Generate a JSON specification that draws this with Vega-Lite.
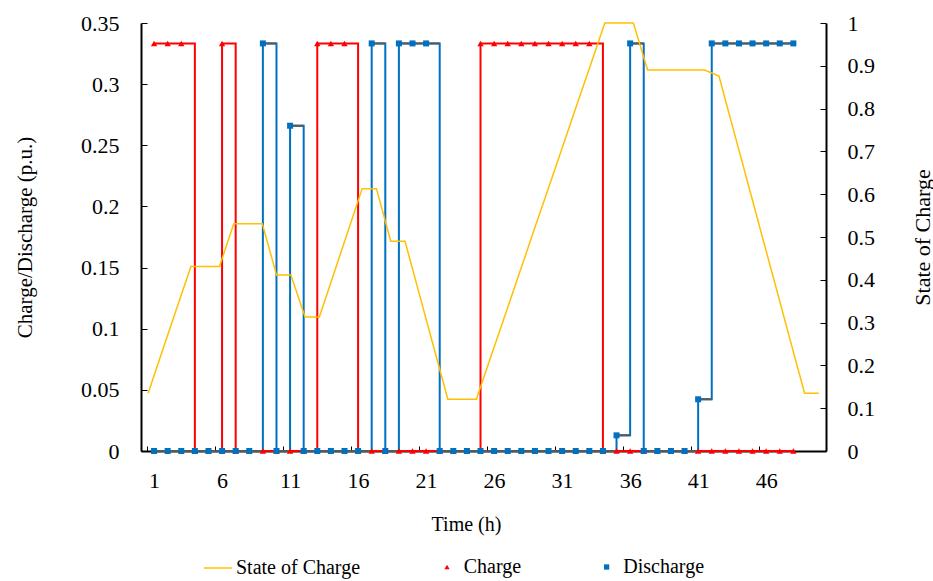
{
  "$schema": "https://vega.github.io/schema/vega-lite/v6.json",
  "width": 685,
  "height": 428,
  "autosize": "none",
  "padding": {"left": 141, "top": 23, "right": 107, "bottom": 130},
  "background": "white",
  "config": {
    "view": {"stroke": null},
    "font": "Liberation Serif",
    "axis": {
      "labelFont": "Liberation Serif", "titleFont": "Liberation Serif",
      "labelFontSize": 22, "titleFontSize": 20, "titleFontWeight": "normal",
      "labelColor": "#000", "titleColor": "#000",
      "domainColor": "#000", "domainWidth": 2,
      "tickColor": "#000", "tickWidth": 1, "grid": false
    },
    "legend": {"labelFont": "Liberation Serif", "labelFontSize": 20, "labelColor": "#000"}
  },
  "datasets": {
    "pwr": [
      {"hour": 1, "charge": 0.3333, "discharge": 0},
      {"hour": 2, "charge": 0.3333, "discharge": 0},
      {"hour": 3, "charge": 0.3333, "discharge": 0},
      {"hour": 4, "charge": 0, "discharge": 0},
      {"hour": 5, "charge": 0, "discharge": 0},
      {"hour": 6, "charge": 0.3333, "discharge": 0},
      {"hour": 7, "charge": 0, "discharge": 0},
      {"hour": 8, "charge": 0, "discharge": 0},
      {"hour": 9, "charge": 0, "discharge": 0.3333},
      {"hour": 10, "charge": 0, "discharge": 0},
      {"hour": 11, "charge": 0, "discharge": 0.266},
      {"hour": 12, "charge": 0, "discharge": 0},
      {"hour": 13, "charge": 0.3333, "discharge": 0},
      {"hour": 14, "charge": 0.3333, "discharge": 0},
      {"hour": 15, "charge": 0.3333, "discharge": 0},
      {"hour": 16, "charge": 0, "discharge": 0},
      {"hour": 17, "charge": 0, "discharge": 0.3333},
      {"hour": 18, "charge": 0, "discharge": 0},
      {"hour": 19, "charge": 0, "discharge": 0.3333},
      {"hour": 20, "charge": 0, "discharge": 0.3333},
      {"hour": 21, "charge": 0, "discharge": 0.3333},
      {"hour": 22, "charge": 0, "discharge": 0},
      {"hour": 23, "charge": 0, "discharge": 0},
      {"hour": 24, "charge": 0, "discharge": 0},
      {"hour": 25, "charge": 0.3333, "discharge": 0},
      {"hour": 26, "charge": 0.3333, "discharge": 0},
      {"hour": 27, "charge": 0.3333, "discharge": 0},
      {"hour": 28, "charge": 0.3333, "discharge": 0},
      {"hour": 29, "charge": 0.3333, "discharge": 0},
      {"hour": 30, "charge": 0.3333, "discharge": 0},
      {"hour": 31, "charge": 0.3333, "discharge": 0},
      {"hour": 32, "charge": 0.3333, "discharge": 0},
      {"hour": 33, "charge": 0.3333, "discharge": 0},
      {"hour": 34, "charge": 0, "discharge": 0},
      {"hour": 35, "charge": 0, "discharge": 0.0128},
      {"hour": 36, "charge": 0, "discharge": 0.3333},
      {"hour": 37, "charge": 0, "discharge": 0},
      {"hour": 38, "charge": 0, "discharge": 0},
      {"hour": 39, "charge": 0, "discharge": 0},
      {"hour": 40, "charge": 0, "discharge": 0},
      {"hour": 41, "charge": 0, "discharge": 0.0423},
      {"hour": 42, "charge": 0, "discharge": 0.3333},
      {"hour": 43, "charge": 0, "discharge": 0.3333},
      {"hour": 44, "charge": 0, "discharge": 0.3333},
      {"hour": 45, "charge": 0, "discharge": 0.3333},
      {"hour": 46, "charge": 0, "discharge": 0.3333},
      {"hour": 47, "charge": 0, "discharge": 0.3333},
      {"hour": 48, "charge": 0, "discharge": 0.3333}
    ],
    "soc": [
      {"k": 1, "soc": 0.135}, {"k": 2, "soc": 0.234}, {"k": 3, "soc": 0.333}, {"k": 4, "soc": 0.431},
      {"k": 5, "soc": 0.431}, {"k": 6, "soc": 0.431}, {"k": 7, "soc": 0.531}, {"k": 8, "soc": 0.531},
      {"k": 9, "soc": 0.531}, {"k": 10, "soc": 0.411}, {"k": 11, "soc": 0.411}, {"k": 12, "soc": 0.313},
      {"k": 13, "soc": 0.313}, {"k": 14, "soc": 0.413}, {"k": 15, "soc": 0.513}, {"k": 16, "soc": 0.613},
      {"k": 17, "soc": 0.613}, {"k": 18, "soc": 0.49}, {"k": 19, "soc": 0.49}, {"k": 20, "soc": 0.367},
      {"k": 21, "soc": 0.244}, {"k": 22, "soc": 0.121}, {"k": 23, "soc": 0.121}, {"k": 24, "soc": 0.121},
      {"k": 25, "soc": 0.219}, {"k": 26, "soc": 0.316}, {"k": 27, "soc": 0.414}, {"k": 28, "soc": 0.512},
      {"k": 29, "soc": 0.609}, {"k": 30, "soc": 0.707}, {"k": 31, "soc": 0.805}, {"k": 32, "soc": 0.902},
      {"k": 33, "soc": 1.0}, {"k": 34, "soc": 1.0}, {"k": 35, "soc": 1.0}, {"k": 36, "soc": 0.89},
      {"k": 37, "soc": 0.89}, {"k": 38, "soc": 0.89}, {"k": 39, "soc": 0.89}, {"k": 40, "soc": 0.89},
      {"k": 41, "soc": 0.876}, {"k": 42, "soc": 0.752}, {"k": 43, "soc": 0.629}, {"k": 44, "soc": 0.505},
      {"k": 45, "soc": 0.382}, {"k": 46, "soc": 0.258}, {"k": 47, "soc": 0.135}, {"k": 48, "soc": 0.135}
    ]
  },
  "layer": [
    {
      "data": {"name": "pwr"},
      "encoding": {
        "x": {
          "field": "hour", "type": "quantitative",
          "scale": {"domain": [0.04, 50.4], "nice": false, "zero": false},
          "axis": {
            "values": [1, 6, 11, 16, 21, 26, 31, 36, 41, 46],
            "format": "d",
            "tickOffset": -6.8, "labelOffset": 6.8,
            "tickSize": -5, "labelPadding": 24,
            "labelFlush": false, "labelOverlap": false,
            "title": "Time (h)",
            "titleX": 325, "titleY": 79, "titleBaseline": "alphabetic", "titleAlign": "center"
          }
        }
      },
      "layer": [
        {
          "mark": {"type": "line", "interpolate": "step-after", "color": "#FF0000", "strokeWidth": 2},
          "encoding": {
            "y": {
              "field": "charge", "type": "quantitative",
              "scale": {"domain": [0, 0.35], "nice": false},
              "axis": {
                "values": [0, 0.05, 0.1, 0.15, 0.2, 0.25, 0.3, 0.35],
                "format": ".2~f",
                "tickSize": -6, "labelPadding": 28,
                "title": "Charge/Discharge (p.u.)", "titleFontSize": 21,
                "titleAngle": -90, "titleX": -110, "titleY": 214,
                "titleBaseline": "alphabetic", "titleAlign": "center"
              }
            }
          }
        },
        {
          "mark": {"type": "line", "interpolate": "step-after", "color": "#0070C0", "strokeWidth": 2},
          "encoding": {
            "y": {
              "field": "discharge", "type": "quantitative",
              "axis": {
                "values": [0, 0.05, 0.1, 0.15, 0.2, 0.25, 0.3, 0.35],
                "format": ".2~f",
                "tickSize": -6, "labelPadding": 28,
                "title": "Charge/Discharge (p.u.)", "titleFontSize": 21,
                "titleAngle": -90, "titleX": -110, "titleY": 214,
                "titleBaseline": "alphabetic", "titleAlign": "center"
              }
            }
          }
        },
        {
          "transform": [
            {"window": [{"op": "lead", "field": "hour", "as": "next"}], "sort": [{"field": "hour"}]},
            {"filter": "datum.next != null"}
          ],
          "mark": {"type": "rule", "color": "#595959", "strokeWidth": 2},
          "encoding": {
            "x2": {"field": "next"},
            "y": {
              "field": "discharge", "type": "quantitative",
              "axis": {
                "values": [0, 0.05, 0.1, 0.15, 0.2, 0.25, 0.3, 0.35],
                "format": ".2~f",
                "tickSize": -6, "labelPadding": 28,
                "title": "Charge/Discharge (p.u.)", "titleFontSize": 21,
                "titleAngle": -90, "titleX": -110, "titleY": 214,
                "titleBaseline": "alphabetic", "titleAlign": "center"
              }
            }
          }
        },
        {
          "mark": {"type": "point", "filled": true, "size": 40, "opacity": 1},
          "encoding": {
            "y": {
              "field": "charge", "type": "quantitative",
              "axis": {
                "values": [0, 0.05, 0.1, 0.15, 0.2, 0.25, 0.3, 0.35],
                "format": ".2~f",
                "tickSize": -6, "labelPadding": 28,
                "title": "Charge/Discharge (p.u.)", "titleFontSize": 21,
                "titleAngle": -90, "titleX": -110, "titleY": 214,
                "titleBaseline": "alphabetic", "titleAlign": "center"
              }
            },
            "fill": {
              "datum": "Charge",
              "scale": {"domain": ["Charge", "Discharge"], "range": ["#FF0000", "#0070C0"]},
              "legend": {"orient": "none", "legendX": 296, "legendY": 534, "title": null, "direction": "horizontal",
                         "symbolSize": 28, "labelOffset": 6.7, "columnPadding": 74.6, "padding": 0}
            },
            "shape": {
              "datum": "Charge",
              "scale": {"domain": ["Charge", "Discharge"], "range": ["triangle-up", "square"]},
              "legend": {"orient": "none", "legendX": 296, "legendY": 534, "title": null, "direction": "horizontal",
                         "symbolSize": 28, "labelOffset": 6.7, "columnPadding": 74.6, "padding": 0}
            }
          }
        },
        {
          "mark": {"type": "point", "filled": true, "size": 36, "opacity": 1},
          "encoding": {
            "y": {
              "field": "discharge", "type": "quantitative",
              "axis": {
                "values": [0, 0.05, 0.1, 0.15, 0.2, 0.25, 0.3, 0.35],
                "format": ".2~f",
                "tickSize": -6, "labelPadding": 28,
                "title": "Charge/Discharge (p.u.)", "titleFontSize": 21,
                "titleAngle": -90, "titleX": -110, "titleY": 214,
                "titleBaseline": "alphabetic", "titleAlign": "center"
              }
            },
            "fill": {"datum": "Discharge"},
            "shape": {"datum": "Discharge"}
          }
        }
      ]
    },
    {
      "data": {"name": "soc"},
      "mark": {"type": "line", "strokeWidth": 1.5},
      "encoding": {
        "x": {"field": "k", "type": "quantitative", "scale": {"domain": [0.5, 48.5], "nice": false, "zero": false}, "axis": null},
        "y": {
          "field": "soc", "type": "quantitative",
          "scale": {"domain": [0, 1], "nice": false},
          "axis": {
            "orient": "right",
            "values": [0, 0.1, 0.2, 0.3, 0.4, 0.5, 0.6, 0.7, 0.8, 0.9, 1],
            "format": ".1~f",
            "tickSize": -6, "labelPadding": 27,
            "title": "State of Charge", "titleFontSize": 22,
            "titleAngle": -90, "titleX": 103, "titleY": 214,
            "titleBaseline": "alphabetic", "titleAlign": "center"
          }
        },
        "stroke": {
          "datum": "State of Charge",
          "scale": {"domain": ["State of Charge"], "range": ["#FFC000"]},
          "legend": {"orient": "none", "legendX": 62, "legendY": 530, "title": null, "direction": "horizontal",
                     "symbolType": "stroke", "symbolSize": 784, "symbolStrokeWidth": 1.5, "labelOffset": 3, "padding": 0}
        }
      }
    }
  ],
  "resolve": {"scale": {"x": "independent", "y": "independent"}}
}
